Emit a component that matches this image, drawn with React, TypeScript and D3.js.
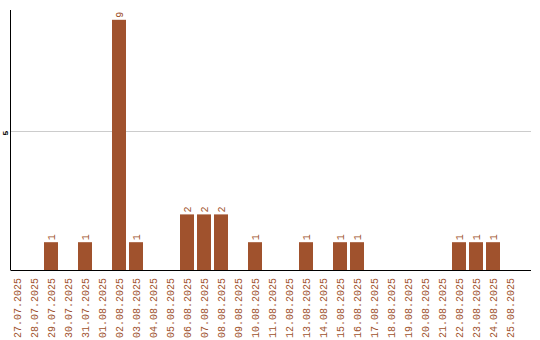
import React from "react";
import * as d3 from "d3";

const dates = [
  "27.07.2025","28.07.2025","29.07.2025","30.07.2025","31.07.2025",
  "01.08.2025","02.08.2025","03.08.2025","04.08.2025","05.08.2025",
  "06.08.2025","07.08.2025","08.08.2025","09.08.2025","10.08.2025",
  "11.08.2025","12.08.2025","13.08.2025","14.08.2025","15.08.2025",
  "16.08.2025","17.08.2025","18.08.2025","19.08.2025","20.08.2025",
  "21.08.2025","22.08.2025","23.08.2025","24.08.2025","25.08.2025",
];
const counts = [0,0,1,0,1,0,9,1,0,0,2,2,2,0,1,0,0,1,0,1,1,0,0,0,0,0,1,1,1,0];
const yTicks = [5];

const W = 540, H = 340;
const left = 10.5, right = 531, top = 10, bottom = 270;
const bandLeft = 8.5, bandRight = 518.5;
const color = "#A0522D";
const font = "'Liberation Mono', monospace";

export default function App() {
  const xb = d3.scaleBand<string>().domain(dates).range([bandLeft, bandRight]).padding(0);
  const y = d3.scaleLinear().domain([0, 260 / 27.8]).range([bottom, top]);
  const bw = 14;
  return (
    <svg width={W} height={H} style={{ position: "absolute", left: 0, top: 0 }}>
      {yTicks.map((t) => (
        <g key={t}>
          <line x1={left} x2={right} y1={Math.round(y(t)) + 0.5} y2={Math.round(y(t)) + 0.5} stroke="#cccccc" strokeWidth={1} />
          <text transform={`translate(7.5,${y(t) + 2}) rotate(-90)`} textAnchor="middle" fontSize={8} fontWeight="bold" fontFamily={font} fill="#000">{t}</text>
        </g>
      ))}
      {dates.map((d, i) => {
        const cx = (xb(d) as number) + xb.bandwidth() / 2;
        const v = counts[i];
        return (
          <g key={d}>
            {v > 0 && (
              <>
                <rect x={cx - bw / 2} y={y(v)} width={bw} height={y(0) - y(v)} fill={color} />
                <text transform={`translate(${cx + 4},${y(v) - 2}) rotate(-90)`} textAnchor="start" fontSize={10} fontFamily={font} fill={color}>{v}</text>
              </>
            )}
            <text transform={`translate(${cx + 4},278) rotate(-90)`} textAnchor="end" fontSize={10} fontFamily={font} fill={color}>{d}</text>
          </g>
        );
      })}
      <line x1={left} x2={left} y1={top} y2={bottom} stroke="#000" strokeWidth={1} />
      <line x1={left} x2={right} y1={bottom + 0.5} y2={bottom + 0.5} stroke="#000" strokeWidth={1} />
    </svg>
  );
}
